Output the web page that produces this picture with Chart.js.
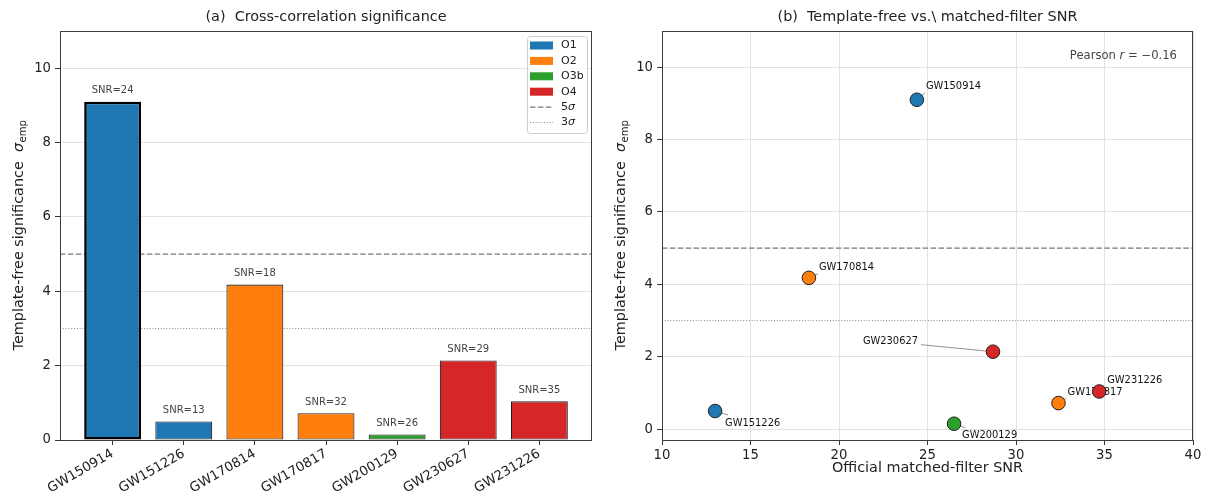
<!DOCTYPE html>
<html><head><meta charset="utf-8">
<script src="https://cdn.jsdelivr.net/npm/chart.js@4.4.1/dist/chart.umd.min.js"></script>
<style>
html,body{margin:0;padding:0;background:#fff;}
#wrap{width:1212px;height:496px;display:flex;}
canvas{display:block;}
</style></head><body>
<div id="wrap"><canvas id="c1" width="606" height="496"></canvas><canvas id="c2" width="606" height="496"></canvas></div>
<script>
// ---------------- data ----------------
const events = ['GW150914','GW151226','GW170814','GW170817','GW200129','GW230627','GW231226'];
const runs = ['O1','O1','O2','O2','O3b','O4','O4'];
const sigmaEmp = [9.10, 0.50, 4.18, 0.72, 0.15, 2.14, 1.04];
const snrOfficial = [24.4, 13.0, 18.3, 32.4, 26.5, 28.7, 34.7];
const snrLabels = ['SNR=24','SNR=13','SNR=18','SNR=32','SNR=26','SNR=29','SNR=35'];
const runNames = ['O1','O2','O3b','O4'];
const thresholds = [5, 3];
const thresholdLabels = ['5', '3'];
const yTicksLeft = [0, 2, 4, 6, 8, 10];
const yTicksRight = [0, 2, 4, 6, 8, 10];
const xTicksRight = [10, 15, 20, 25, 30, 35, 40];
const titleA = '(a)  Cross-correlation significance';
const titleB = '(b)  Template-free vs.\\ matched-filter SNR';
const xLabelB = 'Official matched-filter SNR';
const yLabelMain = 'Template-free significance  ';

// ---------------- style ----------------
const FONT = "'DejaVu Sans', sans-serif";
const TICK = 13.2, LAB = 14.4;
const runColors = {O1:'#1f77b4', O2:'#ff7f0e', O3b:'#2ca02c', O4:'#d62728'};
const thrStyle = [{color:'#777', width:1.2, dash:[5.5,2.4]}, {color:'#888', width:1, dash:[1,1.8]}];
const labelOffsets = [[9,-13,'left'],[10,12,'left'],[10,-10,'left'],[9,-11,'left'],[8,12,'left'],[-75,-10,'right'],[8,-11,'left']];
Chart.defaults.font.family = FONT;
Chart.defaults.color = '#222';

function pearson(x, y) {
  const n = x.length, mx = x.reduce((a,b)=>a+b)/n, my = y.reduce((a,b)=>a+b)/n;
  let sxy=0, sxx=0, syy=0;
  for (let i=0;i<n;i++){const dx=x[i]-mx, dy=y[i]-my; sxy+=dx*dy; sxx+=dx*dx; syy+=dy*dy;}
  return sxy/Math.sqrt(sxx*syy);
}

function drawThresholds(chart) {
  const {ctx, chartArea:ca, scales:{y}} = chart;
  thresholds.forEach((t,k)=>{
    const py = y.getPixelForValue(t), s = thrStyle[k];
    ctx.save(); ctx.strokeStyle = s.color; ctx.lineWidth = s.width; ctx.setLineDash(s.dash);
    ctx.beginPath(); ctx.moveTo(ca.left, py); ctx.lineTo(ca.right, py); ctx.stroke(); ctx.restore();
  });
}
function drawSpines(chart) {
  const {ctx, chartArea:ca} = chart;
  ctx.save(); ctx.strokeStyle = '#3c3c3c'; ctx.lineWidth = 1;
  ctx.strokeRect(ca.left+0.5, ca.top+0.5, ca.right-ca.left-1, ca.bottom-ca.top);
  ctx.restore();
}
function drawTitle(chart, text) {
  const {ctx, chartArea:ca} = chart;
  ctx.save(); ctx.font = `${LAB}px ${FONT}`; ctx.fillStyle = '#222'; ctx.textAlign='center'; ctx.textBaseline='middle';
  ctx.fillText(text, (ca.left+ca.right)/2, 17); ctx.restore();
}
function drawYLabel(chart, cx) {
  const {ctx, chartArea:ca} = chart;
  const size = LAB;
  ctx.save(); ctx.translate(cx, (ca.top+ca.bottom)/2); ctx.rotate(-Math.PI/2);
  ctx.fillStyle = '#222'; ctx.textAlign='left'; ctx.textBaseline='alphabetic';
  ctx.font = `${size}px ${FONT}`; const w1 = ctx.measureText(yLabelMain).width;
  ctx.font = `italic ${size}px ${FONT}`; const w2 = ctx.measureText('σ').width;
  ctx.font = `${size*0.7}px ${FONT}`; const w3 = ctx.measureText('emp').width;
  let x = -(w1+w2+w3)/2; const base = size*0.36;
  ctx.font = `${size}px ${FONT}`; ctx.fillText(yLabelMain, x, base); x += w1;
  ctx.font = `italic ${size}px ${FONT}`; ctx.fillText('σ', x, base); x += w2 + 0.5;
  ctx.font = `${size*0.7}px ${FONT}`; ctx.fillText('emp', x, base + size*0.22);
  ctx.restore();
}
function drawLegend(chart) {
  const {ctx, chartArea:ca} = chart;
  const w = 60, h = 97, left = ca.right - 5 - w, top = ca.top + 5, step = 15.4;
  ctx.save();
  ctx.fillStyle = 'rgba(255,255,255,0.85)'; ctx.strokeStyle = '#cfcfcf'; ctx.lineWidth = 1;
  ctx.beginPath(); ctx.roundRect(left+0.5, top+0.5, w, h, 3); ctx.fill(); ctx.stroke();
  ctx.textAlign='left'; ctx.textBaseline='middle'; ctx.fillStyle='#222';
  let yy = top + 9.5;
  runNames.forEach(r=>{
    ctx.fillStyle = runColors[r]; ctx.fillRect(left+3, yy-4, 23, 8);
    ctx.fillStyle = '#222'; ctx.font = `11px ${FONT}`; ctx.fillText(r, left+34, yy);
    yy += step;
  });
  thresholdLabels.forEach((t,k)=>{
    const s = thrStyle[k];
    ctx.save(); ctx.strokeStyle = s.color; ctx.lineWidth = s.width; ctx.setLineDash(s.dash);
    ctx.beginPath(); ctx.moveTo(left+3, yy); ctx.lineTo(left+26, yy); ctx.stroke(); ctx.restore();
    ctx.fillStyle = '#222'; ctx.font = `11px ${FONT}`; ctx.fillText(t, left+34, yy);
    const tw = ctx.measureText(t).width;
    ctx.font = `italic 11px ${FONT}`; ctx.fillText('σ', left+34+tw, yy);
    yy += step;
  });
  ctx.restore();
}

// ---------------- chart (a) ----------------
new Chart(document.getElementById('c1'), {
  type: 'bar',
  data: { datasets: [{
    data: events.map((e,i)=>({x:i, y:sigmaEmp[i]})),
    backgroundColor: runs.map(r=>runColors[r]),
    borderColor: events.map((e,i)=> i===0 ? '#000' : '#1e1e1e'),
    borderWidth: events.map((e,i)=> i===0 ? 2.6 : 1.1),
    borderSkipped: false,
    barPercentage: 0.8, categoryPercentage: 1.0
  }]},
  options: {
    responsive:false, animation:false, devicePixelRatio:1,
    layout:{padding:{top:31, right:14, left:0, bottom:0}},
    plugins:{legend:{display:false}, tooltip:{enabled:false}},
    scales:{
      x:{type:'linear', min:-0.74, max:6.74, offset:false,
         afterBuildTicks: s=>{ s.ticks = events.map((e,i)=>({value:i})); },
         afterFit: s=>{ s.height = 56; },
         ticks:{autoSkip:false, minRotation:30, maxRotation:30, font:{size:TICK}, color:'#222', padding:1,
                callback:(v)=>events[v]},
         grid:{display:true, offset:false, drawOnChartArea:false, drawTicks:true, tickLength:5, tickColor:'#333'},
         border:{display:false}},
      y:{type:'linear', min:0, max:11,
         afterBuildTicks: s=>{ s.ticks = yTicksLeft.map(v=>({value:v})); },
         afterFit: s=>{ s.width = 60; },
         ticks:{font:{size:TICK}, color:'#222', padding:4},
         grid:{color:'#e2e2e2', lineWidth:1, tickLength:5, tickColor:'#333'},
         border:{display:false}}
    }
  },
  plugins:[{
    id:'decorA',
    beforeDatasetsDraw(chart){ drawThresholds(chart); },
    afterDatasetsDraw(chart){
      const {ctx} = chart; const meta = chart.getDatasetMeta(0);
      ctx.save(); ctx.font = `10px ${FONT}`; ctx.fillStyle = '#444'; ctx.textAlign='center'; ctx.textBaseline='bottom';
      meta.data.forEach((bar,i)=>{ ctx.fillText(snrLabels[i], bar.x, bar.y - 6); });
      ctx.restore();
      drawSpines(chart); drawLegend(chart);
    },
    afterDraw(chart){ drawTitle(chart, titleA); drawYLabel(chart, 18); }
  }]
});

// ---------------- chart (b) ----------------
new Chart(document.getElementById('c2'), {
  type: 'scatter',
  data: { datasets: [{
    data: events.map((e,i)=>({x:snrOfficial[i], y:sigmaEmp[i]})),
    backgroundColor: runs.map(r=>runColors[r]),
    borderColor: '#111', borderWidth: 0.9, pointRadius: 6.8, pointHoverRadius: 6.8
  }]},
  options: {
    responsive:false, animation:false, devicePixelRatio:1,
    layout:{padding:{top:31, right:19, left:0, bottom:0}},
    plugins:{legend:{display:false}, tooltip:{enabled:false}},
    scales:{
      x:{type:'linear', min:10, max:40,
         afterBuildTicks: s=>{ s.ticks = xTicksRight.map(v=>({value:v})); },
         afterFit: s=>{ s.height = 56; },
         ticks:{font:{size:TICK}, color:'#222', padding:3, maxRotation:0},
         grid:{color:'#e2e2e2', lineWidth:1, tickLength:5, tickColor:'#333'},
         border:{display:false}},
      y:{type:'linear', min:-0.3, max:11,
         afterBuildTicks: s=>{ s.ticks = yTicksRight.map(v=>({value:v})); },
         afterFit: s=>{ s.width = 56; },
         ticks:{font:{size:TICK}, color:'#222', padding:4},
         grid:{color:'#e2e2e2', lineWidth:1, tickLength:5, tickColor:'#333'},
         border:{display:false}}
    }
  },
  plugins:[{
    id:'decorB',
    beforeDatasetsDraw(chart){
      drawThresholds(chart);
      const {ctx, scales:{x,y}} = chart;
      ctx.save(); ctx.font = `9.9px ${FONT}`; ctx.textBaseline='middle';
      events.forEach((e,i)=>{
        const px = x.getPixelForValue(snrOfficial[i]), py = y.getPixelForValue(sigmaEmp[i]);
        const [dx,dy,al] = labelOffsets[i];
        const tx = px+dx, ty = py+dy;
        let ex, ey;
        if (al === 'right') { ex = tx+3; ey = ty+3; }
        else if (dy > 0) { ex = tx+3; ey = ty-8; }
        else { ex = tx-1; ey = ty+6; }
        ctx.strokeStyle = '#777'; ctx.lineWidth = 0.8;
        ctx.beginPath(); ctx.moveTo(px, py); ctx.lineTo(ex, ey); ctx.stroke();
        ctx.fillStyle = '#111'; ctx.textAlign = al; ctx.fillText(e, tx, ty);
      });
      ctx.restore();
    },
    afterDatasetsDraw(chart){
      drawSpines(chart);
      const {ctx, chartArea:ca} = chart;
      const r = pearson(snrOfficial, sigmaEmp).toFixed(2).replace('-', '\u2212');
      ctx.save(); ctx.fillStyle = '#444'; ctx.textBaseline='middle'; ctx.textAlign='left';
      const p1 = 'Pearson ', p2 = 'r', p3 = ' = ' + r;
      ctx.font = `11.6px ${FONT}`; const w1 = ctx.measureText(p1).width, w3 = ctx.measureText(p3).width;
      ctx.font = `italic 11.6px ${FONT}`; const w2 = ctx.measureText(p2).width;
      let xx = ca.right - 16 - (w1+w2+w3), yy = ca.top + 25;
      ctx.font = `11.6px ${FONT}`; ctx.fillText(p1, xx, yy); xx += w1;
      ctx.font = `italic 11.6px ${FONT}`; ctx.fillText(p2, xx, yy); xx += w2;
      ctx.font = `11.6px ${FONT}`; ctx.fillText(p3, xx, yy);
      ctx.restore();
    },
    afterDraw(chart){
      drawTitle(chart, titleB); drawYLabel(chart, 14);
      const {ctx, chartArea:ca} = chart;
      ctx.save(); ctx.font = `${LAB}px ${FONT}`; ctx.fillStyle='#222'; ctx.textAlign='center'; ctx.textBaseline='middle';
      ctx.fillText(xLabelB, (ca.left+ca.right)/2, 468); ctx.restore();
    }
  }]
});
</script>
</body></html>
